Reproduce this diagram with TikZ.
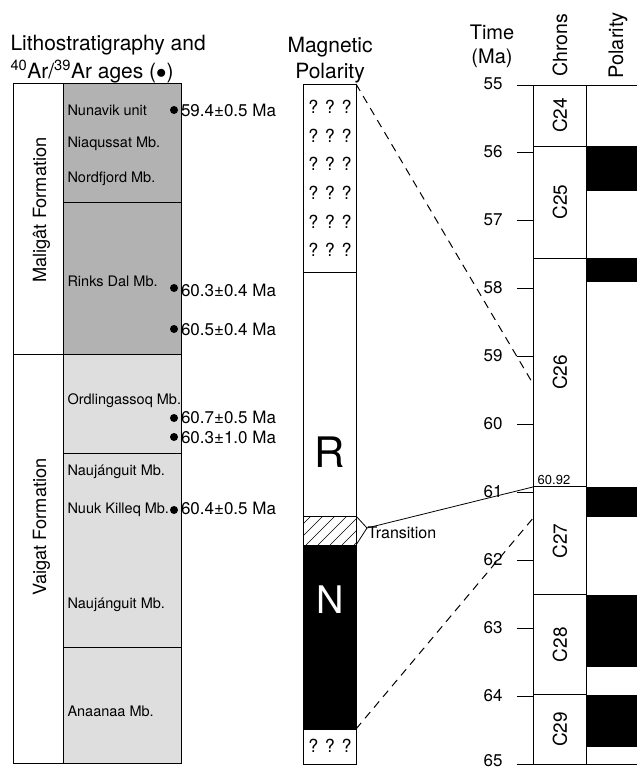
\documentclass[tikz,border=0pt]{standalone}
\usepackage{fontspec}
\setmainfont{TeX Gyre Heros}
\usetikzlibrary{positioning}
\newcommand{\fsz}[1]{\fontsize{#1}{#1}\selectfont}
\colorlet{darkunit}{black!30}
\colorlet{lightunit}{black!13}

\begin{document}
\begin{tikzpicture}[x=1pt,y=-1pt,line width=1pt,
    declare function={ty(\t)=85+(\t-55)*67.9;},
    head/.style={inner sep=0pt,font=\fsz{21}},
    member/.style={anchor=west,inner sep=0pt,font=\fsz{14.5}},
    formation/.style={rotate=90,anchor=base,inner sep=0pt,font=\fsz{18.2}},
    agedot/.style={circle,fill,inner sep=0pt,minimum size=8pt},
    age/.style={anchor=west,inner sep=0pt,font=\fsz{17}},
    qmarks/.style={inner sep=0pt,font=\fsz{18}},
    ticklab/.style={anchor=east,inner sep=0pt,font=\fsz{17}},
    chronlab/.style={rotate=90,inner sep=0pt,font=\fsz{19}},
    dashlink/.style={dash pattern=on 8pt off 6pt}]
  \useasboundingbox (0,0) rectangle (637,771);

  % headers
  \node[head,anchor=base west] (h1) at (10,50) {Lithostratigraphy and};
  \node[head,anchor=base west] (h2) at (10,78) {\textsuperscript{40}Ar/\textsuperscript{39}Ar ages ($\bullet$)};
  \node[head,anchor=base] (h3) at (330,52) {Magnetic};
  \node[head,anchor=base] (h4) at (330,78) {Polarity};
  \node[head,anchor=base,font=\fsz{20}] (h5) at (492,39) {Time};
  \node[head,anchor=base,font=\fsz{20}] (h6) at (492,63) {(Ma)};
  \node[head,rotate=90,anchor=base west,font=\fsz{19.5}] (h7) at (567,77) {Chrons};
  \node[head,rotate=90,anchor=base west,font=\fsz{20}] (h8) at (623,79) {Polarity};

  % lithostratigraphy column
  \fill[darkunit] (63,83) rectangle (181,354);
  \fill[lightunit] (63,354) rectangle (181,763);
  \draw (13,83) rectangle (181,763);
  \draw (63,83) -- (63,763);
  \draw (13,354) -- (181,354);
  \draw (63,202) -- (181,202);
  \draw (63,453) -- (181,453);
  \draw (63,647) -- (181,647);
  \node[formation] (fm1) at (46,210) {Maligât Formation};
  \node[formation] (fm2) at (46,527) {Vaigat Formation};
  \node[member] (m1) at (67,110) {Nunavik unit};
  \node[member] (m2) at (67,144) {Niaqussat Mb.};
  \node[member] (m3) at (67,179) {Nordfjord Mb.};
  \node[member] (m4) at (67,281) {Rinks Dal Mb.};
  \node[member] (m5) at (67,401) {Ordlingassoq Mb.};
  \node[member] (m6) at (67,472) {Naujánguit Mb.};
  \node[member] (m7) at (67,510) {Nuuk Killeq Mb.};
  \node[member] (m8) at (67,605) {Naujánguit Mb.};
  \node[member] (m9) at (67,711) {Anaanaa Mb.};

  % ages
  \node[agedot] (d1) at (174,110) {};
  \node[agedot] (d2) at (174,288) {};
  \node[agedot] (d3) at (174,329) {};
  \node[agedot] (d4) at (174,418) {};
  \node[agedot] (d5) at (174,437) {};
  \node[agedot] (d6) at (174,510) {};
  \node[age,right=2pt of d1] (a1) {59.4±0.5 Ma};
  \node[age,right=2pt of d2,yshift=-2pt] (a2) {60.3±0.4 Ma};
  \node[age,right=2pt of d3] (a3) {60.5±0.4 Ma};
  \node[age,right=2pt of d4,yshift=1pt] (a4) {60.7±0.5 Ma};
  \node[age,right=2pt of d5] (a5) {60.3±1.0 Ma};
  \node[age,right=2pt of d6,yshift=2pt] (a6) {60.4±0.5 Ma};

  % magnetic polarity column
  \fill (303,545) rectangle (356,729);
  \begin{scope}
    \clip (303,516) rectangle (356,545);
    \foreach \x in {270,282,...,360}
      \draw[line width=0.6pt] (\x,545) -- (\x+29,516);
  \end{scope}
  \draw (303,84) rectangle (356,764);
  \draw (303,272) -- (356,272);
  \draw (303,516) -- (356,516);
  \draw (303,545) -- (356,545);
  \draw (303,729) -- (356,729);
  \foreach \i in {0,...,5}
    \node[qmarks] (q\i) at (330,{107+28.6*\i}) {? ? ?};
  \node[qmarks] (q6) at (330,746) {? ? ?};
  \node[inner sep=0pt,font=\fsz{42}] (rlab) at (330,452) {R};
  \node[inner sep=0pt,font=\fsz{38},text=white] (nlab) at (330,600) {N};
  \draw[line width=0.8pt] (356,516) -- (367,528) -- (356,545);
  \node[anchor=west,inner sep=0pt,font=\fsz{16}] (trlab) at (367,533) {Transition};

  % time scale
  \draw (517,{ty(55)}) -- (637,{ty(55)});
  \draw (517,{ty(65)}) -- (637,{ty(65)});
  \foreach \t in {56,...,64}
    \draw (517,{ty(\t)}) -- (533,{ty(\t)});
  \foreach \t in {55,...,64}
    \node[ticklab] (tk\t) at (503,{ty(\t)-1}) {\t};
  \node[ticklab] (tk65) at (503,{ty(65)-3}) {65};
  \foreach \a/\b/\c in {55/55.9/C24,55.9/57.55/C25,57.55/60.92/C26,
                        60.92/62.51/C27,62.51/63.98/C28,63.98/65/C29} {
    \draw (533,{ty(\a)}) rectangle (586,{ty(\b)});
    \node[chronlab] (\c) at (560,{ty((\a+\b)/2)}) {\c};
  }
  \foreach \a/\b in {55.9/56.56,57.55/57.9,60.92/61.36,62.51/63.57,63.98/64.75}
    \fill (586,{ty(\a)}) rectangle (637,{ty(\b)});
  \node[anchor=base,inner sep=0pt,font=\fsz{13}] (b6092) at (554,484) {60.92};

  % correlation lines
  \coordinate (mtop) at (356,84);
  \coordinate (nbot) at (356,729);
  \coordinate (trtip) at (367,528);
  \coordinate (t594) at (533,{ty(59.4)});
  \coordinate (t6092) at (533,{ty(60.92)});
  \coordinate (t6138) at (533,{ty(61.38)});
  \draw[dashlink] (mtop) -- (t594);
  \draw[dashlink] (nbot) -- (t6138);
  \draw[line width=0.8pt] (trtip) -- (t6092);
\end{tikzpicture}
\end{document}
